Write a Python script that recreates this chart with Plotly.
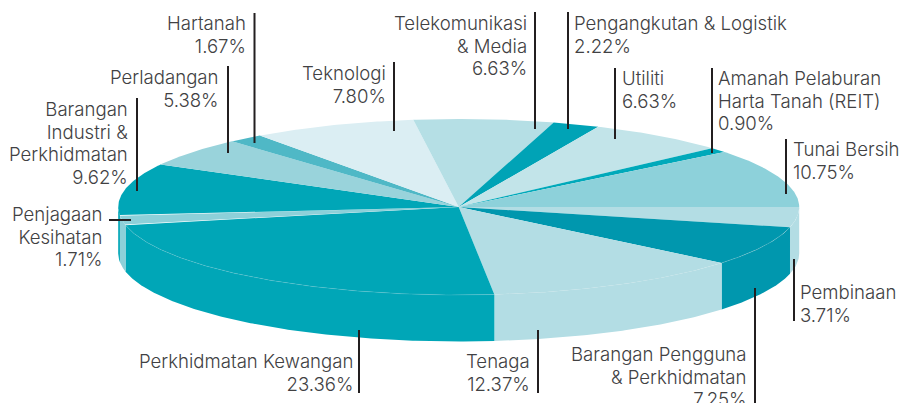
import numpy as np
import plotly.graph_objects as go

# Data, clockwise from the 3 o'clock position
categories = ["Pembinaan", "Barangan Pengguna<br>& Perkhidmatan", "Tenaga", "Perkhidmatan Kewangan",
              "Penjagaan<br>Kesihatan", "Barangan<br>Industri &<br>Perkhidmatan", "Perladangan", "Hartanah",
              "Teknologi", "Telekomunikasi<br>& Media", "Pengangkutan & Logistik", "Utiliti",
              "Amanah Pelaburan<br>Harta Tanah (REIT)", "Tunai Bersih"]
values = [3.71, 7.25, 12.37, 23.36, 1.71, 9.62, 5.38, 1.67, 7.80, 6.63, 2.22, 6.63, 0.90, 10.75]
colors = ["#b3dde4", "#0097ae", "#b3dde4", "#00a6b7", "#8dd0d9", "#00a6b7", "#99d3db", "#4fb8c6",
          "#dbeef3", "#b5dfe5", "#00a3b6", "#c2e4e9", "#00a9ba", "#8dd1da"]

# Label placement: anchor x, first-line baseline, side
label_x = [800, 747, 530, 353, 102, 128, 219, 246, 386, 527, 574, 622, 718, 793]
label_base = [298, 360, 367, 367, 220, 115, 83, 29, 79, 29, 29, 84, 84, 155]
label_side = ["left", "right", "right", "right", "right", "right", "right", "right",
              "right", "right", "left", "left", "left", "left"]
# Leader lines: x0, y0, x1, y1
leaders = [(794, 259, 794, 321), (755, 288, 755, 403), (538, 330, 538, 393), (359, 330, 359, 393),
           (109, 220, 131, 220), (137, 98, 137, 191), (228, 66, 228, 153), (254.5, 13, 254.5, 143),
           (394, 62, 394, 131), (535, 12, 535, 129), (568, 12, 568, 129), (615, 68, 615, 139),
           (712, 68, 712, 153), (786, 139, 786, 194)]

CX, CY, RX, RY, DEPTH = 458.7, 207.0, 340.5, 88.0, 46.5
FONT = "Inter"
FS = 18.6
LINE = 22.6
TEXT = "#414143"
BASE_OFFSET = 17.2


def arc(a0, a1, dy=0.0):
    t = np.linspace(a0, a1, max(2, int(abs(a1 - a0) * 120) + 2))
    return CX + RX * np.cos(t), CY + RY * np.sin(t) + dy


edges = np.concatenate([[0], np.cumsum(values)]) / sum(values) * 2 * np.pi
fig = go.Figure()

# Side walls (front half only)
for i, c in enumerate(colors):
    a0, a1 = edges[i], min(edges[i + 1], np.pi)
    if a0 >= np.pi:
        continue
    x0, y0 = arc(a0, a1)
    x1, y1 = arc(a1, a0, DEPTH)
    fig.add_trace(go.Scatter(x=np.r_[x0, x1, x0[0]], y=np.r_[y0, y1, y0[0]], mode="lines",
                             fill="toself", fillcolor=c, line=dict(width=0), hoverinfo="skip"))

# Top face
for i, c in enumerate(colors):
    x0, y0 = arc(edges[i], edges[i + 1])
    fig.add_trace(go.Scatter(x=np.r_[CX, x0, CX], y=np.r_[CY, y0, CY], mode="lines",
                             fill="toself", fillcolor=c, line=dict(width=0), hoverinfo="skip"))

# Faint seam along the front rim
seam_alpha = {1: 0.3, 2: 0.12, 3: 0.22}
for i, alpha in seam_alpha.items():
    x0, y0 = arc(edges[i], min(edges[i + 1], np.pi))
    fig.add_trace(go.Scatter(x=x0, y=y0, mode="lines", hoverinfo="skip",
                             line=dict(width=0.7, color=f"rgba(215,225,228,{alpha})")))

for (x0, y0, x1, y1) in leaders:
    fig.add_shape(type="line", x0=x0, y0=y0, x1=x1, y1=y1, xref="x", yref="y",
                  line=dict(color="#231f20", width=2))

for cat, val, x, base, side in zip(categories, values, label_x, label_base, label_side):
    lines = cat.split("<br>") + [f"{val:.2f}%"]
    # The line pitch follows the annotation's own size; the glyphs use the inner size.
    text = "<br>".join(f'<span style="font-size:{FS}px">{t}</span>' for t in lines)
    fig.add_annotation(x=x, y=base - BASE_OFFSET, xref="x", yref="y", text=text,
                       showarrow=False, xanchor=side, yanchor="top", align=side,
                       borderpad=0, borderwidth=0,
                       font=dict(family=FONT, size=LINE / 1.3, color=TEXT, weight=300))

fig.update_layout(width=903, height=403, margin=dict(l=0, r=0, t=0, b=0), showlegend=False,
                  paper_bgcolor="white", plot_bgcolor="white",
                  xaxis=dict(range=[0, 903], visible=False, fixedrange=True),
                  yaxis=dict(range=[403, 0], visible=False, fixedrange=True))
fig.write_html("out.html", config={"displayModeBar": False},
               post_script="document.body.style.margin='0';document.body.style.overflow='hidden';")
